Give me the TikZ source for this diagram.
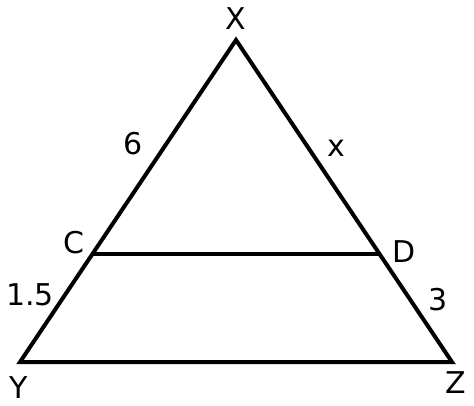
\documentclass[tikz,border=0pt]{standalone}
\usepackage{fontspec}
\setmainfont{DejaVu Sans}
\begin{document}
\begin{tikzpicture}[x=1pt,y=-1pt,
  lbl/.style={inner sep=0pt,font=\fontsize{30}{32}\selectfont},
  edge/.style={line width=4pt,line join=miter,line cap=butt}]
\useasboundingbox (0,0) rectangle (474,406);
\coordinate (X) at (236,40);
\coordinate (Y) at (20,362);
\coordinate (Z) at (452,362);
\coordinate (C) at (92.4,254);
\coordinate (D) at (379.6,254);
\draw[edge] (X) -- (Y) -- (Z) -- cycle;
\draw[edge] (C) -- (D);
\node[lbl] (lX) at (236,19) {X};
\node[lbl] (lY) at (19,388) {Y};
\node[lbl] (lZ) at (456,383) {Z};
\node[lbl] (lC) at (74,243) {C};
\node[lbl] (lD) at (404,252) {D};
\node[lbl] (l6) at (133,144) {6};
\node[lbl] (lx) at (336,148) {x};
\node[lbl] (l15) at (30,295) {1.5};
\node[lbl] (l3) at (438,300) {3};
\end{tikzpicture}
\end{document}
